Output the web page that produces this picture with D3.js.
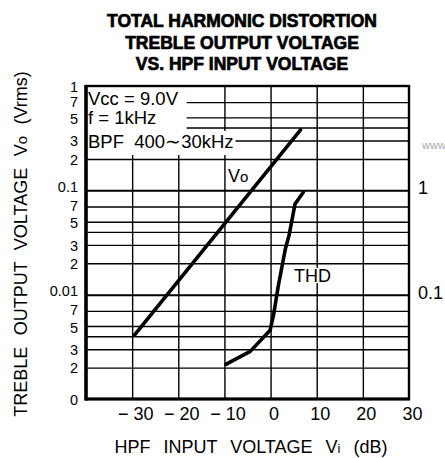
<!DOCTYPE html>
<html>
<head>
<meta charset="utf-8">
<script src="https://cdn.jsdelivr.net/npm/d3@7/dist/d3.min.js"></script>
<style>
  html, body { margin: 0; padding: 0; background: #fff; }
  svg { display: block; }
  text { font-family: "Liberation Sans", Arial, Helvetica, sans-serif; fill: #000; }
</style>
</head>
<body>
<svg id="chart" width="445" height="458"></svg>
<script>
// ---- data ----
const titleLines = ["TOTAL HARMONIC DISTORTION", "TREBLE OUTPUT VOLTAGE", "VS. HPF INPUT VOLTAGE"];
const xTicks = [-30, -20, -10, 0, 10, 20, 30];
const xTickLabels = ["\u2212 30", "\u2212 20", "\u2212 10", "0", "10", "20", "30"];
const xGrid = [-30, -20, -10, 0, 10, 20];
const yLeftTicks = [1, 0.7, 0.5, 0.3, 0.2, 0.1, 0.07, 0.05, 0.03, 0.02, 0.01, 0.007, 0.005, 0.003, 0.002, 0.001];
const yLeftLabels = ["1", "7", "5", "3", "2", "0.1", "7", "5", "3", "2", "0.01", "7", "5", "3", "2", "0"];
const yGrid = [0.7, 0.5, 0.4, 0.3, 0.2, 0.1, 0.07, 0.05, 0.04, 0.03, 0.02, 0.01, 0.007, 0.005, 0.004, 0.003, 0.002];
const yRightTicks = [1, 0.1];
const yRightLabels = ["1", "0.1"];
const voX = [-29.5, 6.5];               // HPF input (dB)
const voY = [0.0041, 0.38];              // Vo (Vrms)
const thdX = [-9.7, -4.4, -0.1, 0.7, 1.7, 3.2, 4.0, 5.3, 7.1];          // HPF input (dB)
const thdY = [0.0215, 0.0286, 0.0457, 0.066, 0.123, 0.274, 0.37, 0.74, 0.96]; // THD (%)
const notes = ["Vcc = 9.0V", "f = 1kHz", "BPF  400\u223C30kHz"];
const xTitle = "HPF INPUT VOLTAGE";
const yTitle = "TREBLE OUTPUT VOLTAGE";

// ---- layout ----
const L = 86, R = 409, T = 86, B = 399;
const svg = d3.select("#chart");
const x = d3.scaleLinear().domain([-40, 30]).range([L, R]);
const yL = d3.scaleLog().domain([0.001, 1]).range([B, T]);
const yR = d3.scaleLog().domain([0.01, 10]).range([B, T]);

// title
svg.append("g").selectAll("text").data(titleLines).join("text")
  .attr("x", 242).attr("y", (d, i) => [27, 49, 70][i])
  .attr("text-anchor", "middle")
  .style("font-size", "17.5px").style("font-weight", "bold")
  .style("stroke", "#000").style("stroke-width", "0.7px")
  .text(d => d);

// grid
const grid = svg.append("g");
grid.append("g").attr("transform", `translate(${L},0)`)
  .call(d3.axisLeft(yL).tickValues(yGrid).tickSize(-(R - L)).tickFormat(""))
  .call(g => g.select(".domain").remove())
  .call(g => g.selectAll("line").attr("stroke", "#000")
     .attr("stroke-width", d => (d === 0.1 || d === 0.01) ? 2 : 1.4));
grid.append("g").attr("transform", `translate(0,${B})`)
  .call(d3.axisBottom(x).tickValues(xGrid).tickSize(-(B - T)).tickFormat(""))
  .call(g => g.select(".domain").remove())
  .call(g => g.selectAll("line").attr("stroke", "#000").attr("stroke-width", 1.4));

// note box (white background hides grid)
const notesG = svg.append("g");
const noteTexts = notesG.selectAll("text").data(notes).join("text")
  .attr("x", L + 2).attr("y", (d, i) => [105, 124, 148][i])
  .style("font-size", "18.5px").style("white-space", "pre")
  .attr("xml:space", "preserve")
  .text(d => d);
const bbs = noteTexts.nodes().map(n => n.getBBox());
const w12 = Math.max(bbs[0].x + bbs[0].width, bbs[1].x + bbs[1].width) + 8;
notesG.insert("rect", "text").attr("x", L + 1).attr("y", T + 1)
  .attr("width", w12 - L - 1).attr("height", 155 - T - 1).attr("fill", "#fff");
notesG.insert("rect", "text").attr("x", L + 1).attr("y", bbs[2].y)
  .attr("width", bbs[2].x + bbs[2].width + 1 - L).attr("height", 155 - bbs[2].y).attr("fill", "#fff");

// frame
svg.append("rect").attr("x", L).attr("y", T).attr("width", R - L).attr("height", B - T)
  .attr("fill", "none").attr("stroke", "#000").attr("stroke-width", 2.4);
svg.append("line").attr("x1", L).attr("x2", L).attr("y1", T - 1).attr("y2", B + 1.5)
  .attr("stroke", "#000").attr("stroke-width", 3.5);
svg.append("line").attr("x1", L - 1).attr("x2", R + 1).attr("y1", B).attr("y2", B)
  .attr("stroke", "#000").attr("stroke-width", 3.2);

// left axis labels
const leftAx = svg.append("g").attr("transform", `translate(${L},0)`)
  .call(d3.axisLeft(yL).tickValues(yLeftTicks).tickSize(0).tickPadding(8)
    .tickFormat((d, i) => yLeftLabels[i]));
leftAx.select(".domain").remove();
leftAx.selectAll("text").style("font-size", "14.5px").attr("font-family", null)
  .attr("dy", (d, i) => {
    const lab = yLeftLabels[i];
    if (lab === "0.1" || lab === "0.01") return "0.05em";
    if (lab === "7") return "0.28em";
    if (lab === "5") return "0.42em";
    return "0.36em";
  });

// right axis labels
const rightAx = svg.append("g").attr("transform", `translate(${R},0)`)
  .call(d3.axisRight(yR).tickValues(yRightTicks).tickSize(0).tickPadding(9)
    .tickFormat((d, i) => yRightLabels[i]));
rightAx.select(".domain").remove();
rightAx.selectAll("text").style("font-size", "18px").attr("font-family", null).attr("dy", "0.2em");

// bottom axis labels
const botAx = svg.append("g").attr("transform", `translate(3,${B})`)
  .call(d3.axisBottom(x).tickValues(xTicks).tickSize(0).tickPadding(8)
    .tickFormat((d, i) => xTickLabels[i]));
botAx.select(".domain").remove();
botAx.selectAll("text").style("font-size", "18px").attr("font-family", null);

// curves
const line = d3.line().x(d => x(d[0])).y(d => d[1]);
svg.append("path")
  .attr("d", line(voX.map((v, i) => [v, yL(voY[i])])))
  .attr("fill", "none").attr("stroke", "#000").attr("stroke-width", 3.6).attr("stroke-linecap", "round");
svg.append("path")
  .attr("d", line(thdX.map((v, i) => [v, yR(thdY[i])])))
  .attr("fill", "none").attr("stroke", "#000").attr("stroke-width", 3.6)
  .attr("stroke-linejoin", "round").attr("stroke-linecap", "round");

// curve labels
svg.append("text").attr("x", 228).attr("y", 182).style("font-size", "18px")
  .text("V").append("tspan").style("font-size", "15px").text("o");
const thdT = svg.append("text").attr("x", 294).attr("y", 282).style("font-size", "18px").text("THD");
const tb = thdT.node().getBBox();
svg.insert("rect", () => thdT.node()).attr("x", tb.x - 1).attr("y", tb.y + 2)
  .attr("width", tb.width + 2).attr("height", tb.height - 5).attr("fill", "#fff");

// watermark fragment
svg.append("text").attr("x", 422).attr("y", 149).style("font-size", "11px").style("fill", "#aaa").text("www");

// axis titles
const yt = svg.append("text").attr("transform", "translate(27,244) rotate(-90)")
  .attr("text-anchor", "middle").style("font-size", "18px").style("word-spacing", "6.5px");
yt.append("tspan").text(yTitle + " V");
yt.append("tspan").style("font-size", "15px").text("o");
yt.append("tspan").text(" (Vrms)");

const xt = svg.append("text").attr("x", 251).attr("y", 453)
  .attr("text-anchor", "middle").style("font-size", "18px").style("word-spacing", "8px");
xt.append("tspan").text(xTitle + " V");
xt.append("tspan").style("font-size", "13px").text("i");
xt.append("tspan").text(" (dB)");
</script>
</body>
</html>
